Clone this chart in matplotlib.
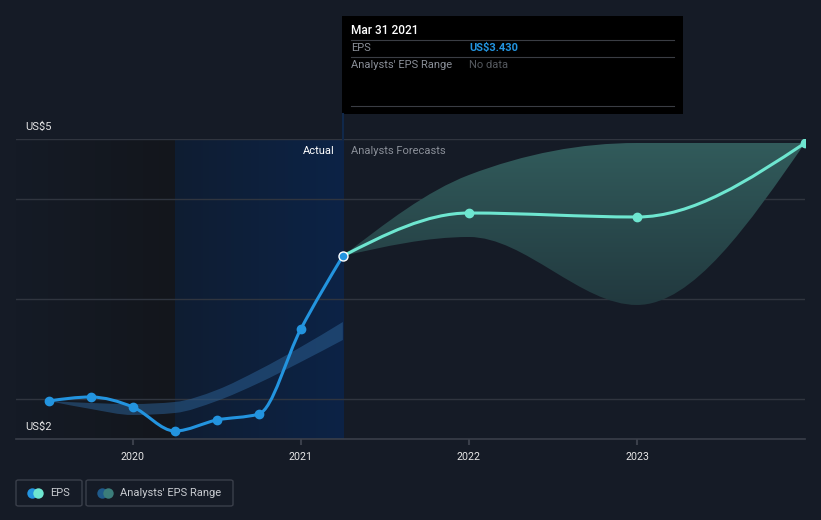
import numpy as np
import matplotlib
matplotlib.use("Agg")
import matplotlib.pyplot as plt
from matplotlib.path import Path
from matplotlib.patches import PathPatch, FancyBboxPatch
from matplotlib.lines import Line2D

plt.rcParams['font.family'] = ['Roboto', 'DejaVu Sans']

# data
eps_t = [2019.5, 2019.75, 2020.0, 2020.25, 2020.5, 2020.75, 2021.0, 2021.25]
eps_v = [2.38, 2.42, 2.32, 2.08, 2.19, 2.25, 3.10, 3.83]

past_low = [2.38, 2.30, 2.24, 2.26, 2.38, 2.56, 2.77, 2.99]
past_high = [2.38, 2.36, 2.35, 2.37, 2.49, 2.69, 2.92, 3.17]

fc_t = [2021.25, 2022.0, 2023.0, 2024.0]
fc_v = [3.83, 4.26, 4.22, 4.96]
fc_low = [3.83, 4.02, 3.34, 4.96]
fc_high = [3.83, 4.64, 4.96, 4.96]

x_ticks = [2020, 2021, 2022, 2023]
x_labels = ["2020", "2021", "2022", "2023"]

BG = '#151b26'
GRID = '#30353f'
BLUE = '#2394df'
TEAL = '#6ee6d0'

W, H = 821, 520


def tangents(x, y):
    # monotone cubic slopes, d3 curveMonotoneX style
    x = np.asarray(x, float)
    y = np.asarray(y, float)
    h = np.diff(x)
    d = np.diff(y) / h
    m = np.zeros(len(x))
    for i in range(1, len(x) - 1):
        p = (d[i - 1] * h[i] + d[i] * h[i - 1]) / (h[i - 1] + h[i])
        m[i] = (np.sign(d[i - 1]) + np.sign(d[i])) * min(abs(d[i - 1]), abs(d[i]), 0.5 * abs(p))
    if len(x) > 2:
        m[0] = (3 * d[0] - m[1]) / 2
        m[-1] = (3 * d[-1] - m[-2]) / 2
    else:
        m[0] = m[-1] = d[0]
    return m


def curve_segments(x, y):
    m = tangents(x, y)
    verts = []
    for i in range(len(x) - 1):
        h = x[i + 1] - x[i]
        verts += [(x[i] + h / 3, y[i] + m[i] * h / 3),
                  (x[i + 1] - h / 3, y[i + 1] - m[i + 1] * h / 3),
                  (x[i + 1], y[i + 1])]
    return verts


def curve_path(x, y):
    verts = [(x[0], y[0])] + curve_segments(x, y)
    codes = [Path.MOVETO] + [Path.CURVE4] * (len(verts) - 1)
    return Path(verts, codes)


def band_path(x, lo, hi):
    verts = [(x[0], hi[0])] + curve_segments(x, hi)
    codes = [Path.MOVETO] + [Path.CURVE4] * (len(verts) - 1)
    xr = list(x)[::-1]
    lr = list(lo)[::-1]
    verts += [(xr[0], lr[0])] + curve_segments(xr, lr)
    codes += [Path.LINETO] + [Path.CURVE4] * (len(verts) - len(codes) - 1)
    verts.append((x[0], hi[0]))
    codes.append(Path.CLOSEPOLY)
    return Path(verts, codes)


fig = plt.figure(figsize=(W / 100, H / 100), dpi=100, facecolor=BG)
ax = fig.add_axes([16 / W, 1 - 439 / H, (805 - 16) / W, 300 / H])
ax.set_facecolor(BG)
x0, x1 = 2019.305, 2024.0
ax.set_xlim(x0, x1)
ax.set_ylim(2, 5)

# shaded background regions
grad = np.linspace(0, 1, 200).reshape(1, -1)
c_a = np.array([21, 27, 38]) / 255
c_b = np.array([19, 22, 28]) / 255
img = c_a + (c_b - c_a) * grad[..., None]
ax.imshow(img, extent=[x0, 2020.25, 2, 5], aspect='auto', zorder=0)
c_a = np.array([15, 29, 50]) / 255
c_b = np.array([12, 35, 70]) / 255
img = c_a + (c_b - c_a) * grad[..., None]
ax.imshow(img, extent=[2020.25, 2021.25, 2, 5], aspect='auto', zorder=0)

# grid lines
for gv in [2.4, 3.4, 4.4, 5.0]:
    ax.axhline(gv, color=GRID, lw=1, zorder=1)
ax.axhline(2.0, color='#3a3f4a', lw=1.2, zorder=1, clip_on=False)

# past analysts range band
past = PathPatch(band_path(eps_t, past_low, past_high), facecolor='#2a5d8f',
                 edgecolor='none', alpha=0.55, zorder=2)
ax.add_patch(past)

# forecast band with vertical gradient
fc = PathPatch(band_path(fc_t, fc_low, fc_high), facecolor='none',
               edgecolor='none', zorder=2)
ax.add_patch(fc)
vg = np.linspace(0, 1, 200).reshape(-1, 1)
top = np.array([50, 92, 92]) / 255
bot = np.array([33, 56, 62]) / 255
img = top + (bot - top) * vg[..., None]
im = ax.imshow(img, extent=[2021.25, 2024.0, 3.3, 5.0], aspect='auto', zorder=2)
im.set_clip_path(fc)

# lines
ax.add_patch(PathPatch(curve_path(eps_t, eps_v), facecolor='none', edgecolor=BLUE,
                       lw=2.2, zorder=3, capstyle='round'))
ax.plot(eps_t[:-1], eps_v[:-1], 'o', color=BLUE, ms=6, zorder=4)
ax.add_patch(PathPatch(curve_path(fc_t, fc_v), facecolor='none', edgecolor=TEAL,
                       lw=2.2, zorder=3, capstyle='round'))
ax.plot(fc_t[1:], fc_v[1:], 'o', color=TEAL, ms=6, zorder=4)
ax.plot([eps_t[-1]], [eps_v[-1]], 'o', color=BLUE, mec='white', mew=1, ms=6.5, zorder=5)

ax.set_xticks(x_ticks)
ax.set_xticklabels(x_labels)
ax.tick_params(axis='x', colors='#3a3f4a', length=4, width=1.5, labelcolor='#e6e6e6',
               labelsize=7.7, pad=5)
ax.set_yticks([])
for s in ax.spines.values():
    s.set_visible(False)

# y labels
fig.text(25 / W, 1 - 127 / H, "US$5", color='#e6e6e6', fontsize=8, va='center')
fig.text(25 / W, 1 - 427 / H, "US$2", color='#e6e6e6', fontsize=8, va='center')

fig.text(335 / W, 1 - 151 / H, "Actual", color='#ffffff', fontsize=8, ha='right', va='center')
fig.text(351 / W, 1 - 151 / H, "Analysts Forecasts", color='#8a8f98', fontsize=8, va='center')

# vertical hover line
fig.add_artist(Line2D([343 / W, 343 / W], [1 - 139 / H, 1 - 114 / H], color='#10284a', lw=1.5))

# tooltip
fig.add_artist(FancyBboxPatch((342 / W, 1 - 114 / H), (683 - 342) / W, 98 / H,
                              boxstyle='square,pad=0', facecolor='#000000', edgecolor='none'))
fig.text(351 / W, 1 - 31 / H, "Mar 31 2021", color='#ffffff', fontsize=8.6,
         fontweight='medium', va='center')
for ly in [40, 57, 106]:
    fig.add_artist(Line2D([351 / W, 674 / W], [1 - ly / H, 1 - ly / H], color='#3a3d44', lw=0.8))
fig.text(351 / W, 1 - 48 / H, "EPS", color='#8a8f98', fontsize=8, va='center')
fig.text(469 / W, 1 - 48 / H, "US$3.430", color=BLUE, fontsize=8, fontweight='bold', va='center')
fig.text(351 / W, 1 - 65 / H, "Analysts' EPS Range", color='#8a8f98', fontsize=8, va='center')
fig.text(469 / W, 1 - 65 / H, "No data", color='#55595f', fontsize=8, va='center')

# legend
for (lx, rx, label, c1, c2) in [(16, 82, "EPS", BLUE, TEAL),
                                (86, 233, "Analysts' EPS Range", '#1f5a8a', '#3b7d7a')]:
    fig.add_artist(FancyBboxPatch((lx / W, 1 - 506 / H), (rx - lx) / W, 26 / H,
                                  boxstyle='round,pad=0,rounding_size=0.003',
                                  facecolor='none', edgecolor='#3a3f4a', lw=1))
    fig.add_artist(Line2D([(lx + 16) / W], [1 - 493 / H], marker='o', ms=7.5,
                          color=c1, mec='none'))
    fig.add_artist(Line2D([(lx + 22) / W], [1 - 493 / H], marker='o', ms=7.5,
                          color=c2, mec='none'))
    fig.text((lx + 34) / W, 1 - 493 / H, label, color='#c8cbd0', fontsize=8, va='center')

fig.savefig("out.png", dpi=100, facecolor=BG)
